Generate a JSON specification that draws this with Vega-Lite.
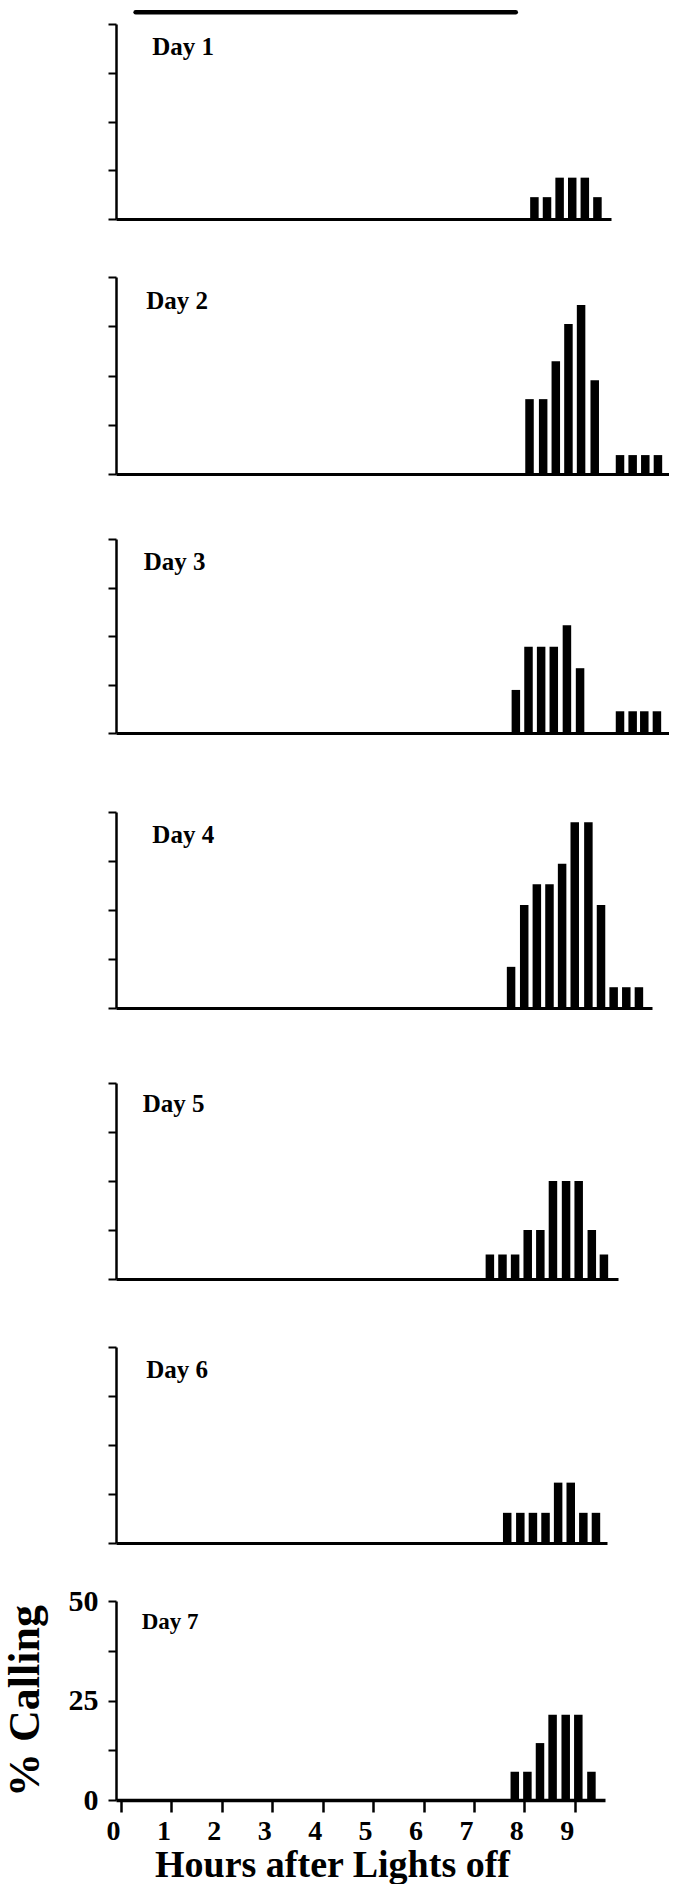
{
  "$schema": "https://vega.github.io/schema/vega-lite/v6.json",
  "background": "white",
  "padding": {"left": 3, "top": 0, "right": 0, "bottom": 0},
  "config": {
    "view": {"stroke": null},
    "font": "Liberation Serif",
    "axis": {"grid": false, "domainColor": "black", "tickColor": "black", "labelColor": "black", "titleColor": "black"}
  },
  "datasets": {
    "bars": [
      {"day": 1, "hour": 8.2, "pct": 5.6}, {"day": 1, "hour": 8.45, "pct": 5.6}, {"day": 1, "hour": 8.7, "pct": 10.6}, {"day": 1, "hour": 8.95, "pct": 10.6}, {"day": 1, "hour": 9.2, "pct": 10.6}, {"day": 1, "hour": 9.45, "pct": 5.6},
      {"day": 2, "hour": 8.08, "pct": 19.0}, {"day": 2, "hour": 8.35, "pct": 19.0}, {"day": 2, "hour": 8.6, "pct": 28.6}, {"day": 2, "hour": 8.85, "pct": 38.1}, {"day": 2, "hour": 9.1, "pct": 42.9}, {"day": 2, "hour": 9.37, "pct": 23.8}, {"day": 2, "hour": 9.87, "pct": 4.8}, {"day": 2, "hour": 10.12, "pct": 4.8}, {"day": 2, "hour": 10.37, "pct": 4.8}, {"day": 2, "hour": 10.62, "pct": 4.8},
      {"day": 3, "hour": 7.81, "pct": 11.1}, {"day": 3, "hour": 8.06, "pct": 22.2}, {"day": 3, "hour": 8.31, "pct": 22.2}, {"day": 3, "hour": 8.56, "pct": 22.2}, {"day": 3, "hour": 8.82, "pct": 27.8}, {"day": 3, "hour": 9.08, "pct": 16.7}, {"day": 3, "hour": 9.87, "pct": 5.6}, {"day": 3, "hour": 10.12, "pct": 5.6}, {"day": 3, "hour": 10.35, "pct": 5.6}, {"day": 3, "hour": 10.6, "pct": 5.6},
      {"day": 4, "hour": 7.72, "pct": 10.5}, {"day": 4, "hour": 7.98, "pct": 26.3}, {"day": 4, "hour": 8.23, "pct": 31.6}, {"day": 4, "hour": 8.48, "pct": 31.6}, {"day": 4, "hour": 8.73, "pct": 36.8}, {"day": 4, "hour": 8.98, "pct": 47.4}, {"day": 4, "hour": 9.25, "pct": 47.4}, {"day": 4, "hour": 9.5, "pct": 26.3}, {"day": 4, "hour": 9.75, "pct": 5.3}, {"day": 4, "hour": 10.0, "pct": 5.3}, {"day": 4, "hour": 10.25, "pct": 5.3},
      {"day": 5, "hour": 7.31, "pct": 6.25}, {"day": 5, "hour": 7.56, "pct": 6.25}, {"day": 5, "hour": 7.81, "pct": 6.25}, {"day": 5, "hour": 8.06, "pct": 12.5}, {"day": 5, "hour": 8.31, "pct": 12.5}, {"day": 5, "hour": 8.56, "pct": 25}, {"day": 5, "hour": 8.82, "pct": 25}, {"day": 5, "hour": 9.07, "pct": 25}, {"day": 5, "hour": 9.33, "pct": 12.5}, {"day": 5, "hour": 9.57, "pct": 6.25},
      {"day": 6, "hour": 7.66, "pct": 7.7}, {"day": 6, "hour": 7.92, "pct": 7.7}, {"day": 6, "hour": 8.17, "pct": 7.7}, {"day": 6, "hour": 8.42, "pct": 7.7}, {"day": 6, "hour": 8.67, "pct": 15.4}, {"day": 6, "hour": 8.92, "pct": 15.4}, {"day": 6, "hour": 9.17, "pct": 7.7}, {"day": 6, "hour": 9.42, "pct": 7.7},
      {"day": 7, "hour": 7.81, "pct": 7.1}, {"day": 7, "hour": 8.06, "pct": 7.1}, {"day": 7, "hour": 8.31, "pct": 14.3}, {"day": 7, "hour": 8.56, "pct": 21.4}, {"day": 7, "hour": 8.82, "pct": 21.4}, {"day": 7, "hour": 9.07, "pct": 21.4}, {"day": 7, "hour": 9.33, "pct": 7.1}
    ],
    "lights": [{"start": 0.29, "end": 7.83}]
  },
  "vconcat": [
    {
      "width": 495, "height": 219,
      "layer": [
        {"data": {"name": "bars"}, "transform": [{"filter": "datum.day === 1"}],
         "mark": {"type": "bar", "color": "black", "size": 8.5, "orient": "vertical"},
         "encoding": {
           "x": {"field": "hour", "type": "quantitative", "scale": {"domain": [0, 9.62], "nice": false, "zero": false}, "axis": {"ticks": false, "labels": false, "title": null, "domainWidth": 3}},
           "y": {"field": "pct", "type": "quantitative", "scale": {"domain": [0, 50], "range": [219, 24], "nice": false}, "axis": {"values": [0, 12.5, 25, 37.5, 50], "labels": false, "title": null, "tickSize": 8, "tickWidth": 2, "domainWidth": 2.5}}
         }},
        {"data": {"name": "lights"}, "mark": {"type": "rule", "color": "black", "strokeWidth": 4.5, "strokeCap": "round"},
         "encoding": {"x": {"field": "start", "type": "quantitative", "title": null}, "x2": {"field": "end"}, "y": {"datum": 53, "type": "quantitative"}}},
        {"data": {"values": [{"label": "Day 1"}]}, "mark": {"type": "text", "fontSize": 25, "fontWeight": "bold", "align": "left", "baseline": "alphabetic", "color": "black"},
         "encoding": {"x": {"datum": 0.62, "type": "quantitative"}, "y": {"datum": 42, "type": "quantitative"}, "text": {"field": "label"}}}
      ]
    },
    {
      "width": 553, "height": 255,
      "layer": [
        {"data": {"name": "bars"}, "transform": [{"filter": "datum.day === 2"}],
         "mark": {"type": "bar", "color": "black", "size": 8.5, "orient": "vertical"},
         "encoding": {
           "x": {"field": "hour", "type": "quantitative", "scale": {"domain": [0, 10.74], "nice": false, "zero": false}, "axis": {"ticks": false, "labels": false, "title": null, "domainWidth": 3}},
           "y": {"field": "pct", "type": "quantitative", "scale": {"domain": [0, 50], "range": [255, 58], "nice": false}, "axis": {"values": [0, 12.5, 25, 37.5, 50], "labels": false, "title": null, "tickSize": 8, "tickWidth": 2, "domainWidth": 2.5}}
         }},
        {"data": {"values": [{"label": "Day 2"}]}, "mark": {"type": "text", "fontSize": 25, "fontWeight": "bold", "align": "left", "baseline": "alphabetic", "color": "black"},
         "encoding": {"x": {"datum": 0.5, "type": "quantitative"}, "y": {"datum": 42, "type": "quantitative"}, "text": {"field": "label"}}}
      ]
    },
    {
      "width": 553, "height": 259,
      "layer": [
        {"data": {"name": "bars"}, "transform": [{"filter": "datum.day === 3"}],
         "mark": {"type": "bar", "color": "black", "size": 8.5, "orient": "vertical"},
         "encoding": {
           "x": {"field": "hour", "type": "quantitative", "scale": {"domain": [0, 10.74], "nice": false, "zero": false}, "axis": {"ticks": false, "labels": false, "title": null, "domainWidth": 3}},
           "y": {"field": "pct", "type": "quantitative", "scale": {"domain": [0, 50], "range": [259, 65], "nice": false}, "axis": {"values": [0, 12.5, 25, 37.5, 50], "labels": false, "title": null, "tickSize": 8, "tickWidth": 2, "domainWidth": 2.5}}
         }},
        {"data": {"values": [{"label": "Day 3"}]}, "mark": {"type": "text", "fontSize": 25, "fontWeight": "bold", "align": "left", "baseline": "alphabetic", "color": "black"},
         "encoding": {"x": {"datum": 0.45, "type": "quantitative"}, "y": {"datum": 42, "type": "quantitative"}, "text": {"field": "label"}}}
      ]
    },
    {
      "width": 536, "height": 275,
      "layer": [
        {"data": {"name": "bars"}, "transform": [{"filter": "datum.day === 4"}],
         "mark": {"type": "bar", "color": "black", "size": 8.5, "orient": "vertical"},
         "encoding": {
           "x": {"field": "hour", "type": "quantitative", "scale": {"domain": [0, 10.41], "nice": false, "zero": false}, "axis": {"ticks": false, "labels": false, "title": null, "domainWidth": 3}},
           "y": {"field": "pct", "type": "quantitative", "scale": {"domain": [0, 50], "range": [275, 79], "nice": false}, "axis": {"values": [0, 12.5, 25, 37.5, 50], "labels": false, "title": null, "tickSize": 8, "tickWidth": 2, "domainWidth": 2.5}}
         }},
        {"data": {"values": [{"label": "Day 4"}]}, "mark": {"type": "text", "fontSize": 25, "fontWeight": "bold", "align": "left", "baseline": "alphabetic", "color": "black"},
         "encoding": {"x": {"datum": 0.62, "type": "quantitative"}, "y": {"datum": 42, "type": "quantitative"}, "text": {"field": "label"}}}
      ]
    },
    {
      "width": 502, "height": 271,
      "layer": [
        {"data": {"name": "bars"}, "transform": [{"filter": "datum.day === 5"}],
         "mark": {"type": "bar", "color": "black", "size": 8.5, "orient": "vertical"},
         "encoding": {
           "x": {"field": "hour", "type": "quantitative", "scale": {"domain": [0, 9.75], "nice": false, "zero": false}, "axis": {"ticks": false, "labels": false, "title": null, "domainWidth": 3}},
           "y": {"field": "pct", "type": "quantitative", "scale": {"domain": [0, 50], "range": [271, 75], "nice": false}, "axis": {"values": [0, 12.5, 25, 37.5, 50], "labels": false, "title": null, "tickSize": 8, "tickWidth": 2, "domainWidth": 2.5}}
         }},
        {"data": {"values": [{"label": "Day 5"}]}, "mark": {"type": "text", "fontSize": 25, "fontWeight": "bold", "align": "left", "baseline": "alphabetic", "color": "black"},
         "encoding": {"x": {"datum": 0.43, "type": "quantitative"}, "y": {"datum": 42.5, "type": "quantitative"}, "text": {"field": "label"}}}
      ]
    },
    {
      "width": 491, "height": 264,
      "layer": [
        {"data": {"name": "bars"}, "transform": [{"filter": "datum.day === 6"}],
         "mark": {"type": "bar", "color": "black", "size": 8.5, "orient": "vertical"},
         "encoding": {
           "x": {"field": "hour", "type": "quantitative", "scale": {"domain": [0, 9.54], "nice": false, "zero": false}, "axis": {"ticks": false, "labels": false, "title": null, "domainWidth": 3}},
           "y": {"field": "pct", "type": "quantitative", "scale": {"domain": [0, 50], "range": [264, 68], "nice": false}, "axis": {"values": [0, 12.5, 25, 37.5, 50], "labels": false, "title": null, "tickSize": 8, "tickWidth": 2, "domainWidth": 2.5}}
         }},
        {"data": {"values": [{"label": "Day 6"}]}, "mark": {"type": "text", "fontSize": 25, "fontWeight": "bold", "align": "left", "baseline": "alphabetic", "color": "black"},
         "encoding": {"x": {"datum": 0.5, "type": "quantitative"}, "y": {"datum": 42, "type": "quantitative"}, "text": {"field": "label"}}}
      ]
    },
    {
      "width": 489, "height": 257,
      "layer": [
        {"data": {"name": "bars"}, "transform": [{"filter": "datum.day === 7"}],
         "mark": {"type": "bar", "color": "black", "size": 8.5, "orient": "vertical"},
         "encoding": {
           "x": {"field": "hour", "type": "quantitative", "scale": {"domain": [0, 9.5], "nice": false, "zero": false},
                 "axis": {"values": [0,0.25,0.5,0.75,1,1.25,1.5,1.75,2,2.25,2.5,2.75,3,3.25,3.5,3.75,4,4.25,4.5,4.75,5,5.25,5.5,5.75,6,6.25,6.5,6.75,7,7.25,7.5,7.75,8,8.25,8.5,8.75,9,9.25,9.5],
                          "tickSize": {"condition": {"test": "datum.value % 1 === 0", "value": 12}, "value": 7},
                          "tickWidth": 2.5, "domainWidth": 3.5,
                          "labelExpr": "datum.value % 1 === 0 ? format(datum.value, 'd') : ''",
                          "labelOverlap": false, "labelFlush": false,
                          "labelFontSize": 28, "labelFontWeight": "bold", "labelOffset": -8, "labelPadding": 5,
                          "title": "Hours after Lights off", "titleFontSize": 38, "titleFontWeight": "bold", "titlePadding": 1, "titleX": 216, "titleAlign": "center"}},
           "y": {"field": "pct", "type": "quantitative", "scale": {"domain": [0, 50], "range": [257, 58], "nice": false},
                 "axis": {"values": [0, 12.5, 25, 37.5, 50], "labelExpr": "datum.value % 25 === 0 ? format(datum.value, 'd') : ''",
                          "labelFontSize": 30, "labelFontWeight": "bold", "labelPadding": 10, "minExtent": 48, "maxExtent": 48,
                          "tickSize": 8, "tickWidth": 2, "domainWidth": 2.5,
                          "title": "% Calling", "titleFontSize": 44, "titleFontWeight": "bold", "titlePadding": 21}}
         }},
        {"data": {"values": [{"label": "Day 7"}]}, "mark": {"type": "text", "fontSize": 23, "fontWeight": "bold", "align": "left", "baseline": "alphabetic", "color": "black"},
         "encoding": {"x": {"datum": 0.41, "type": "quantitative"}, "y": {"datum": 43, "type": "quantitative"}, "text": {"field": "label"}}}
      ]
    }
  ],
  "spacing": 0,
  "bounds": "flush"
}
